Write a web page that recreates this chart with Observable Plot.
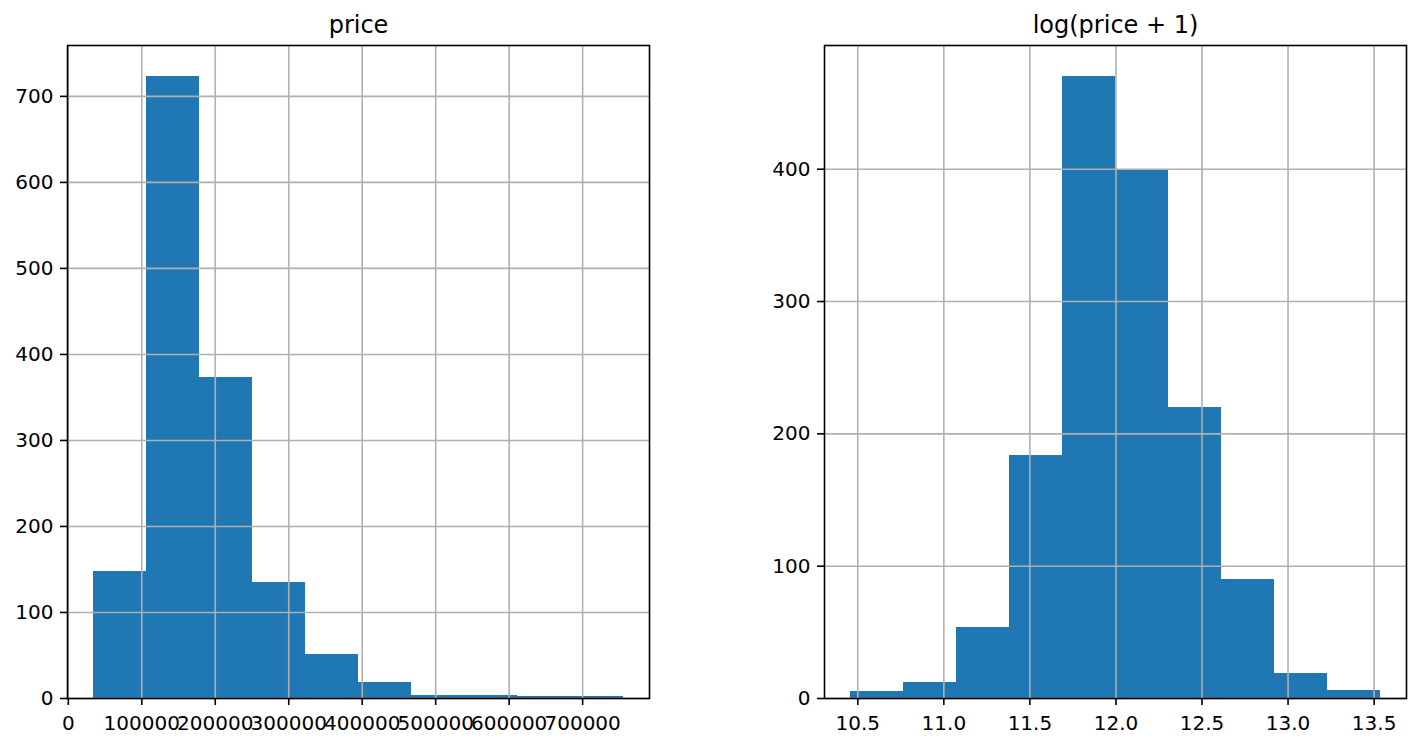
<!DOCTYPE html>
<html>
<head>
<meta charset="utf-8">
<script src="https://cdn.jsdelivr.net/npm/d3@7"></script>
<script src="https://cdn.jsdelivr.net/npm/@observablehq/plot@0.6"></script>
<style>
  html, body { margin: 0; padding: 0; background: white; }
  #fig { position: relative; width: 1420px; height: 745px; overflow: hidden; }
  #fig > div { position: absolute; top: 0; }
</style>
</head>
<body>
<div id="fig"><div id="left" style="left:0"></div><div id="right" style="left:710px"></div></div>
<script>
// ---- data ----
const priceEdges = [34900, 106910, 178920, 250930, 322940, 394950, 466960, 538970, 610980, 682990, 755000];
const priceCounts = [148, 723, 373, 135, 51, 19, 4, 3, 2, 2];
const priceTicksX = [0, 100000, 200000, 300000, 400000, 500000, 600000, 700000];
const priceTicksY = [0, 100, 200, 300, 400, 500, 600, 700];

const logEdges = [10.4603, 10.7677, 11.0751, 11.3825, 11.6900, 11.9974, 12.3048, 12.6122, 12.9196, 13.2271, 13.5345];
const logCounts = [5, 12, 54, 184, 470, 400, 220, 90, 19, 6];
const logTicksX = [10.5, 11.0, 11.5, 12.0, 12.5, 13.0, 13.5];
const logTicksY = [0, 100, 200, 300, 400];

const titles = ["price", "log(price + 1)"];

function bins(edges, counts) {
  return counts.map((c, i) => ({x1: edges[i], x2: edges[i + 1], y: c}));
}

function hist({edges, counts, ticksX, ticksY, fmtX, title, marginLeft, marginRight}) {
  const data = bins(edges, counts);
  const lo = edges[0], hi = edges[edges.length - 1];
  const pad = (hi - lo) * 0.05;
  const ymax = d3.max(counts) * 1.05;
  return Plot.plot({
    width: 710,
    height: 745,
    marginLeft, marginRight,
    marginTop: 45,
    marginBottom: 47,
    style: {fontFamily: "DejaVu Sans", fontSize: "20px", color: "black", background: "white", overflow: "visible"},
    x: {domain: [lo - pad, hi + pad]},
    y: {domain: [0, ymax]},
    marks: [
      Plot.rectY(data, {x1: "x1", x2: "x2", y: "y", fill: "#1f77b4", inset: 0, shapeRendering: "crispEdges"}),
      Plot.gridX(ticksX, {stroke: "#b0b0b0", strokeOpacity: 1, strokeWidth: 1.6}),
      Plot.gridY(ticksY, {stroke: "#b0b0b0", strokeOpacity: 1, strokeWidth: 1.6}),
      Plot.axisX(ticksX, {tickSize: 7, tickPadding: 10, stroke: "black", strokeWidth: 1.6, fontSize: 20, tickFormat: fmtX, label: null}),
      Plot.axisY(ticksY, {tickSize: 7, tickPadding: 7, stroke: "black", strokeWidth: 1.6, fontSize: 20, label: null}),
      Plot.frame({stroke: "black", strokeWidth: 1.6}),
      Plot.text([title], {frameAnchor: "top", dy: -20.4, text: d => d, fontSize: 24, lineAnchor: "middle", fill: "black"})
    ]
  });
}

document.getElementById("left").append(hist({
  edges: priceEdges, counts: priceCounts, ticksX: priceTicksX, ticksY: priceTicksY,
  fmtX: d => String(d), title: titles[0], marginLeft: 67, marginRight: 61
}));
document.getElementById("right").append(hist({
  edges: logEdges, counts: logCounts, ticksX: logTicksX, ticksY: logTicksY,
  fmtX: d => d.toFixed(1), title: titles[1], marginLeft: 114, marginRight: 14
}));
</script>
</body>
</html>
